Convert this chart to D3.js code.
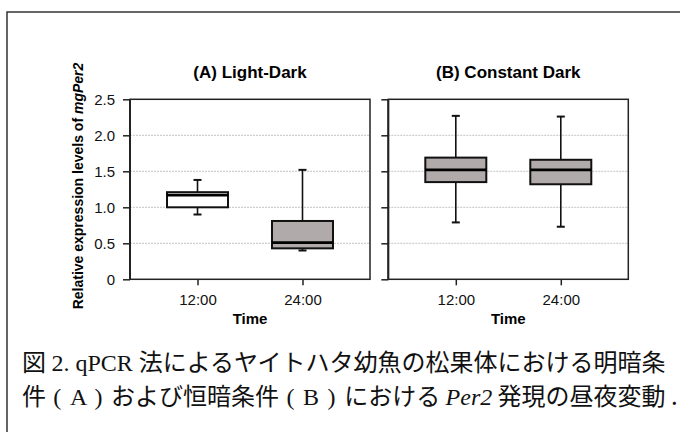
<!DOCTYPE html>
<html>
<head>
<meta charset="utf-8">
<script src="https://cdn.jsdelivr.net/npm/d3@7"></script>
<style>
  body { margin: 0; background: #fff; }
  svg { display: block; }
  .axis path, .axis line { stroke: #222; stroke-width: 1.5; }
  .axis text { font-family: "Liberation Sans", Arial, sans-serif; font-size: 15px; fill: #111; }
</style>
</head>
<body>
<svg id="chart" width="680" height="432"></svg>
<script>
const times = ["12:00", "24:00"];
const yTicks = [0, 0.5, 1.0, 1.5, 2.0, 2.5];
const gridValues = [0.5, 1.0, 1.5, 2.0];
const panelTitles = ["(A) Light-Dark", "(B) Constant Dark"];

// box stats per panel: [whiskerLow, q1, median, q3, whiskerHigh]
const lightDark = [
  [0.90, 1.00, 1.17, 1.21, 1.38],
  [0.40, 0.43, 0.51, 0.81, 1.52]
];
const constantDark = [
  [0.79, 1.35, 1.52, 1.69, 2.27],
  [0.73, 1.32, 1.52, 1.66, 2.26]
];
const boxFills = [["#ffffff", "#b0abaa"], ["#b0abaa", "#b0abaa"]];

const svg = d3.select("#chart");

// outer frame of the figure
svg.append("rect")
  .attr("x", 7).attr("y", 12)
  .attr("width", 720).attr("height", 500)
  .attr("fill", "none")
  .attr("stroke", "#333")
  .attr("stroke-width", 1.5);

const plotTop = 99.3, plotH = 180, plotW = 240;
const panelLeft = [130, 388.3];
const boxW = 61, capW = 8;

const y = d3.scaleLinear().domain([0, 2.5]).range([plotH, 0]);
const x = d3.scalePoint().domain(times).range([0, plotW]).padding(0.643);

function drawPanel(i, stats) {
  const g = svg.append("g")
    .attr("transform", "translate(" + panelLeft[i] + "," + plotTop + ")");

  // dotted grid
  g.selectAll(".grid")
    .data(gridValues)
    .enter()
    .append("line")
    .attr("x1", 0).attr("x2", plotW)
    .attr("y1", d => y(d)).attr("y2", d => y(d))
    .attr("stroke", "#c2c2c2")
    .attr("stroke-width", 1)
    .attr("stroke-dasharray", "2,1");

  // y axis (labels only on first panel)
  const yAxis = d3.axisLeft(y).tickValues(yTicks).tickSize(7).tickPadding(8)
    .tickFormat(d => (d === 0 ? "0" : d3.format(".1f")(d)));
  const ya = g.append("g").attr("class", "axis").call(yAxis);
  ya.select(".domain").remove();
  if (i === 1) ya.selectAll("text").remove();

  // x axis
  const xAxis = d3.axisBottom(x).tickSize(6).tickPadding(6).tickSizeOuter(0);
  const xa = g.append("g").attr("class", "axis")
    .attr("transform", "translate(0," + plotH + ")")
    .call(xAxis);
  xa.select(".domain").remove();
  xa.selectAll("text").attr("dy", "0.9em");

  // boxes
  const box = g.selectAll(".box")
    .data(stats)
    .enter()
    .append("g")
    .attr("transform", (d, j) => "translate(" + x(times[j]) + ",0)");

  box.append("line")
    .attr("x1", 0).attr("x2", 0)
    .attr("y1", d => y(d[0])).attr("y2", d => y(d[4]))
    .attr("stroke", "#111").attr("stroke-width", 1.6);

  box.append("line")
    .attr("x1", -capW / 2).attr("x2", capW / 2)
    .attr("y1", d => y(d[4])).attr("y2", d => y(d[4]))
    .attr("stroke", "#111").attr("stroke-width", 2);

  box.append("line")
    .attr("x1", -capW / 2).attr("x2", capW / 2)
    .attr("y1", d => y(d[0])).attr("y2", d => y(d[0]))
    .attr("stroke", "#111").attr("stroke-width", 2);

  box.append("rect")
    .attr("x", -boxW / 2)
    .attr("width", boxW)
    .attr("y", d => y(d[3]))
    .attr("height", d => y(d[1]) - y(d[3]))
    .attr("fill", (d, j) => boxFills[i][j])
    .attr("stroke", "#111")
    .attr("stroke-width", 2);

  box.append("line")
    .attr("x1", -boxW / 2).attr("x2", boxW / 2)
    .attr("y1", d => y(d[2])).attr("y2", d => y(d[2]))
    .attr("stroke", "#000").attr("stroke-width", 2.8);

  // plot frame
  g.append("rect")
    .attr("width", plotW).attr("height", plotH)
    .attr("fill", "none")
    .attr("stroke", "#222")
    .attr("stroke-width", 1.5);
  g.append("line")
    .attr("x1", 0).attr("x2", 0).attr("y1", 0).attr("y2", plotH)
    .attr("stroke", "#222").attr("stroke-width", 2);

  // title
  g.append("text")
    .attr("x", plotW / 2).attr("y", 78 - plotTop)
    .attr("text-anchor", "middle")
    .style("font-family", "Liberation Sans, Arial, sans-serif")
    .style("font-weight", "bold")
    .style("font-size", "17px")
    .text(panelTitles[i]);

  // x label
  g.append("text")
    .attr("x", plotW / 2).attr("y", 324 - plotTop)
    .attr("text-anchor", "middle")
    .style("font-family", "Liberation Sans, Arial, sans-serif")
    .style("font-weight", "bold")
    .style("font-size", "15px")
    .text("Time");
}

drawPanel(0, lightDark);
drawPanel(1, constantDark);

// y label
const yl = svg.append("text")
  .attr("transform", "translate(82.5,186) rotate(-90)")
  .attr("text-anchor", "middle")
  .style("font-family", "Liberation Sans, Arial, sans-serif")
  .style("font-weight", "bold")
  .style("font-size", "14px");
yl.append("tspan").text("Relative expression levels of ");
yl.append("tspan").style("font-style", "italic").text("mgPer2");

// caption
const jp = "'Noto Sans CJK JP', sans-serif";
const serif = "'Liberation Serif', 'Times New Roman', serif";
const cap1 = svg.append("text").attr("x", 22).attr("y", 371).style("font-size", "24px").style("fill", "#111");
cap1.append("tspan").style("font-family", jp).text("図 ");
cap1.append("tspan").style("font-family", serif).text("2. qPCR ");
cap1.append("tspan").style("font-family", jp).text("法によるヤイトハタ幼魚の松果体における明暗条");

const cap2 = svg.append("text").attr("x", 22).attr("y", 405).style("font-size", "24px").style("fill", "#111");
cap2.append("tspan").style("font-family", jp).text("件");
cap2.append("tspan").style("font-family", serif).style("letter-spacing", "1.3px").text(" ( A ) ");
cap2.append("tspan").style("font-family", jp).text("および恒暗条件");
cap2.append("tspan").style("font-family", serif).style("letter-spacing", "1.3px").text(" ( B ) ");
cap2.append("tspan").style("font-family", jp).text("における ");
cap2.append("tspan").style("font-family", serif).style("font-style", "italic").text("Per2");
cap2.append("tspan").style("font-family", jp).text(" 発現の昼夜変動 .");
</script>
</body>
</html>
